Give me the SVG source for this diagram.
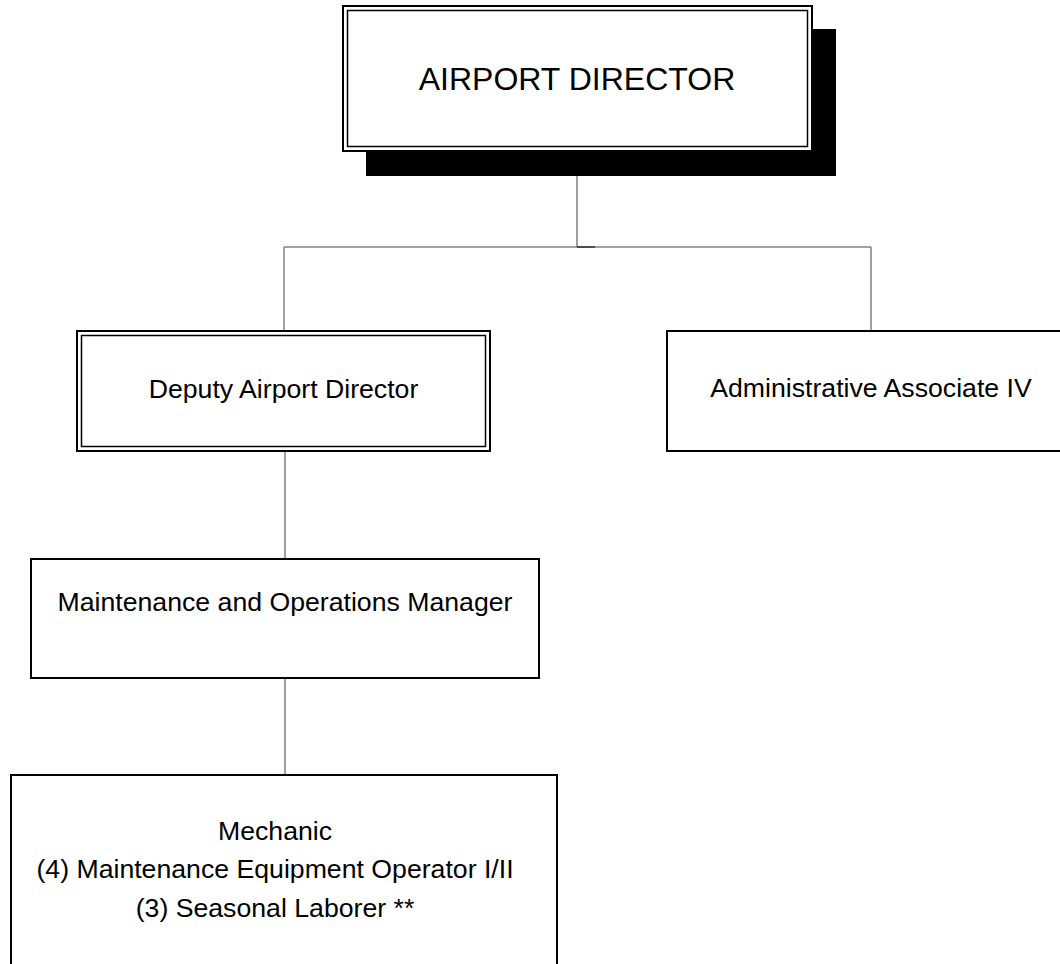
<svg xmlns="http://www.w3.org/2000/svg" width="1060" height="964" viewBox="0 0 1060 964">
<style>
.box{fill:#fff;stroke:#000;stroke-width:2}
.inner{fill:none;stroke:#000;stroke-width:1.5}
.lbl{font-family:"Liberation Sans",Arial,sans-serif;font-size:26.67px;fill:#000;text-anchor:middle}
.title{font-family:"Liberation Sans",Arial,sans-serif;font-size:32px;fill:#000;text-anchor:middle}
.conn{stroke:#808080;stroke-width:1.5;fill:none}
</style>
<rect width="1060" height="964" fill="#fff"/>
<g id="connectors">
<line class="conn" x1="577" y1="176" x2="577" y2="247"/>
<line class="conn" x1="284" y1="247" x2="871" y2="247"/>
<line x1="577" y1="247" x2="595" y2="247" stroke="#333" stroke-width="1.5"/>
<line class="conn" x1="284" y1="247" x2="284" y2="331"/>
<line class="conn" x1="871" y1="247" x2="871" y2="331"/>
<line class="conn" x1="285" y1="451" x2="285" y2="559"/>
<line class="conn" x1="285" y1="678" x2="285" y2="775"/>
</g>
<g id="airport-director">
<rect x="366" y="29" width="470" height="147" fill="#000"/>
<rect class="box" x="343" y="6" width="469" height="145"/>
<rect class="inner" x="347.5" y="10.5" width="460" height="136"/>
<text class="title" x="577" y="90">AIRPORT DIRECTOR</text>
</g>
<g id="deputy-director">
<rect class="box" x="77" y="331" width="413" height="120"/>
<rect class="inner" x="81.5" y="335.5" width="404" height="111"/>
<text class="lbl" x="283.5" y="398">Deputy Airport Director</text>
</g>
<g id="admin-associate">
<rect class="box" x="667" y="331" width="408" height="120"/>
<text class="lbl" x="871" y="397">Administrative Associate IV</text>
</g>
<g id="maintenance-manager">
<rect class="box" x="31" y="559" width="508" height="119"/>
<text class="lbl" x="285" y="611">Maintenance and Operations Manager</text>
</g>
<g id="mechanic">
<rect class="box" x="11" y="775" width="546" height="200"/>
<text class="lbl" x="275" y="840">Mechanic</text>
<text class="lbl" x="275" y="878">(4) Maintenance Equipment Operator I/II</text>
<text class="lbl" x="275" y="917">(3) Seasonal Laborer **</text>
</g>
</svg>
